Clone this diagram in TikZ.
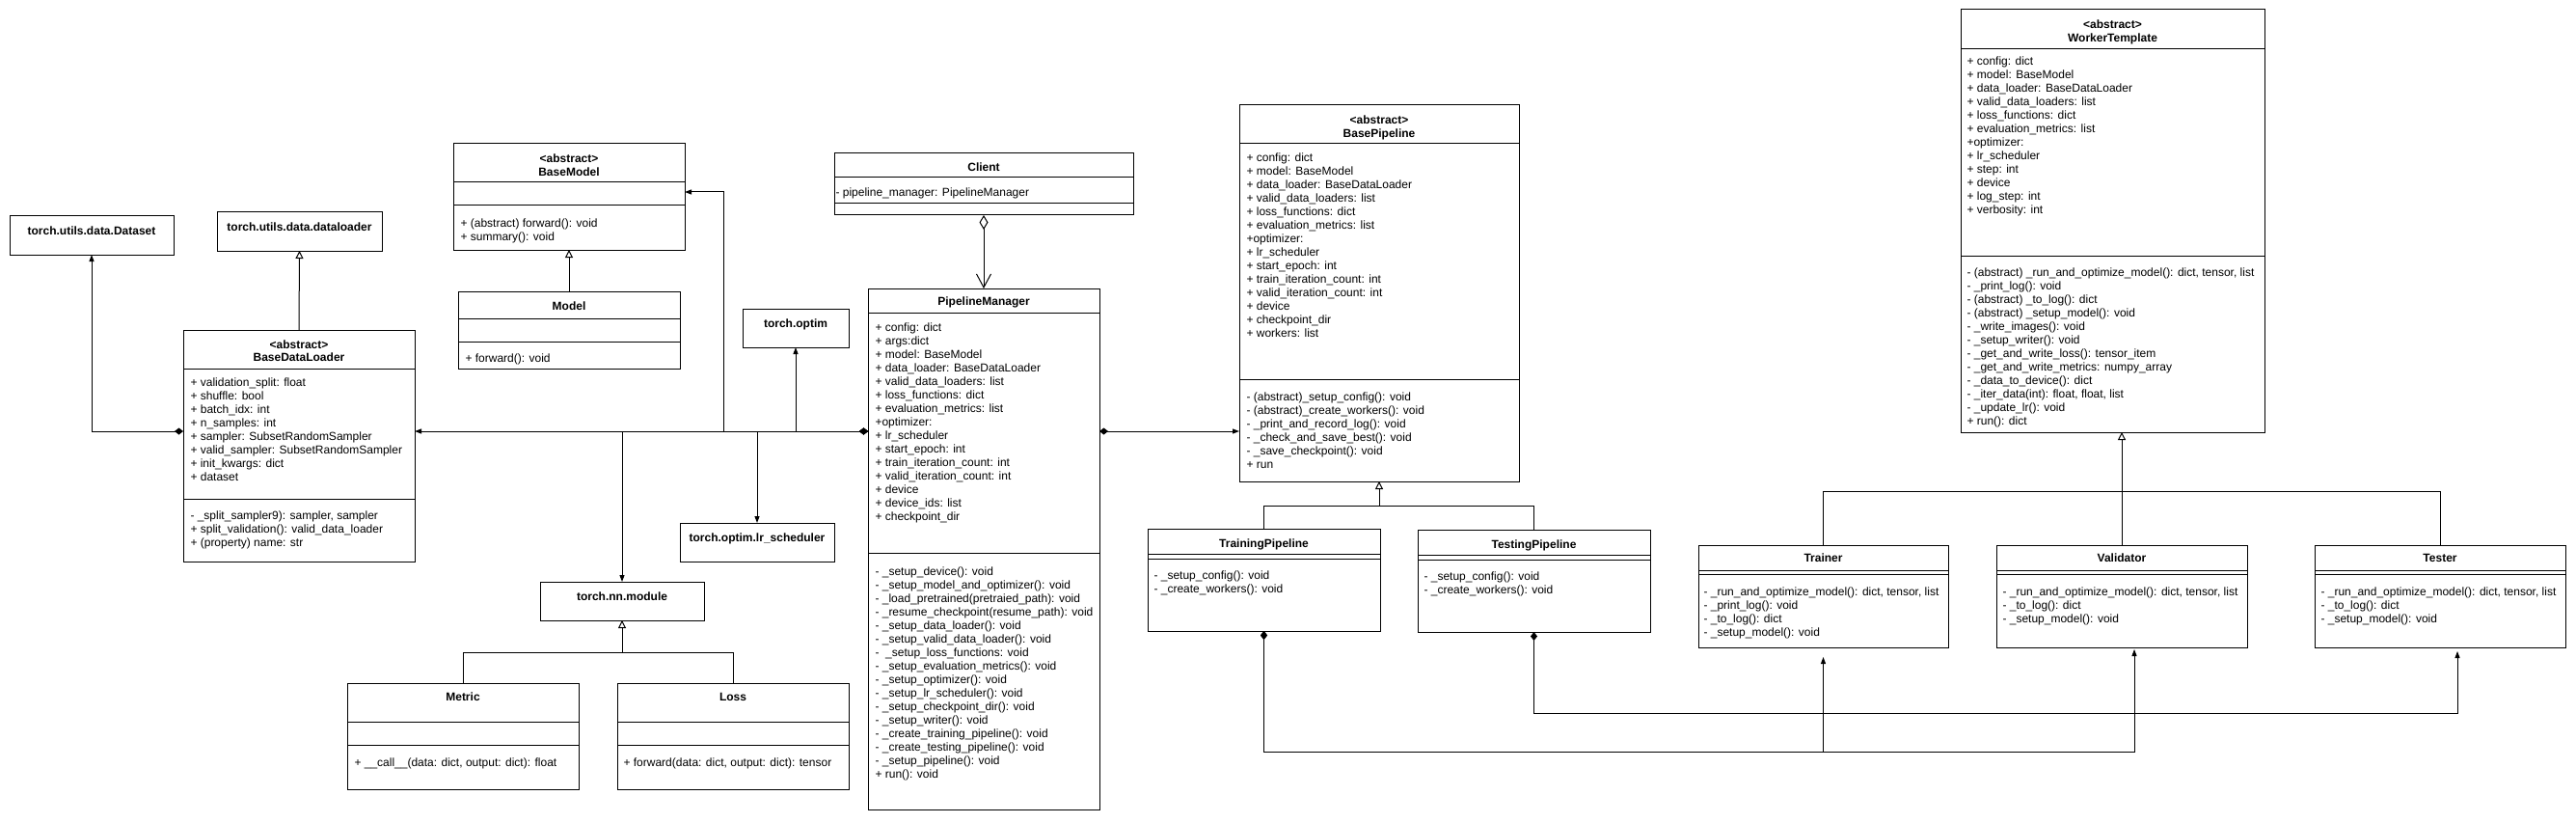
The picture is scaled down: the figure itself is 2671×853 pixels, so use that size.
\documentclass[tikz,border=0pt]{standalone}
\usepackage{fontspec}
\setmainfont{Liberation Sans}
\usetikzlibrary{arrows.meta}
\newcommand\umlbox[5]{\node[umlbox, minimum width=#4pt, minimum height=#5pt] (#1) at (#2,#3) {};}
\newcommand\hdiv[2]{\draw (#1.west |- 0,#2) -- (#1.east |- 0,#2);}
\newcommand\tl[4]{\node[ttl] (#1) at (#2,{#3+4.3}) {#4};}
\newcommand\tx[4]{\node[txt] (#1) at (#2,{#3-5.5}) {\strut #4};}
\begin{document}
\begin{tikzpicture}[x=1pt,y=-1pt,line width=1pt,
  umlbox/.style={draw, anchor=north west, inner sep=0pt, outer sep=0pt},
  txt/.style={anchor=north west, inner sep=0pt, align=left, font=\fontsize{12}{14}\selectfont},
  ttl/.style={anchor=base, inner sep=0pt, font=\fontsize{12}{14}\selectfont\bfseries},
  comp/.style={{Diamond[length=9pt,width=7pt]}-{Triangle[length=7pt,width=5pt]}},
  assoc/.style={-{Triangle[length=7pt,width=5pt]}},
  gen/.style={-{Triangle[open,length=8pt,width=8pt]}},
  agg/.style={{Diamond[open,length=15pt,width=9pt]}-{Straight Barb[length=14pt,width=15pt]}}]
\useasboundingbox[fill=white] (0,0) rectangle (2671,853);

% ---------- boxes ----------
\umlbox{ds}{10}{224}{170}{40}
\umlbox{dl}{225}{220}{171}{40}
\umlbox{bdl}{190}{342}{240}{240}
\umlbox{bm}{470}{149}{240}{110}
\umlbox{model}{475}{302}{230}{80}
\umlbox{optim}{770}{320}{110}{40}
\umlbox{client}{865}{159}{310}{64}
\umlbox{pm}{900}{299}{240}{540}
\umlbox{lr}{705}{542}{160}{40}
\umlbox{nn}{560}{603}{170}{40}
\umlbox{metric}{360}{708}{240}{110}
\umlbox{loss}{640}{708}{240}{110}
\umlbox{bp}{1285}{109}{290}{390}
\umlbox{tp}{1190}{548}{241}{106}
\umlbox{testp}{1470}{549}{241}{106}
\umlbox{wt}{2033}{10}{315}{438}
\umlbox{trainer}{1761}{565}{259}{106}
\umlbox{val}{2070}{565}{260}{106}
\umlbox{tester}{2400}{565}{260}{106}

% ---------- dividers ----------
\hdiv{bdl}{382}\hdiv{bdl}{517}
\hdiv{bm}{189}\hdiv{bm}{213}
\hdiv{model}{330}\hdiv{model}{354}
\hdiv{client}{184}\hdiv{client}{211}
\hdiv{pm}{324}\hdiv{pm}{573}
\hdiv{metric}{748}\hdiv{metric}{772}
\hdiv{loss}{748}\hdiv{loss}{772}
\hdiv{bp}{149}\hdiv{bp}{393}
\hdiv{tp}{574}\hdiv{tp}{579}
\hdiv{testp}{575}\hdiv{testp}{580}
\hdiv{wt}{51}\hdiv{wt}{265}
\hdiv{trainer}{591}\hdiv{trainer}{595}
\hdiv{val}{591}\hdiv{val}{595}
\hdiv{tester}{591}\hdiv{tester}{595}

% ---------- titles ----------
\tl{dsT}{95}{239}{torch.utils.data.Dataset}
\tl{dlT}{310.5}{235}{torch.utils.data.dataloader}
\tl{bdlS}{310}{357}{<abstract>}
\tl{bdlT}{310}{370}{BaseDataLoader}
\tl{bmS}{590}{164}{<abstract>}
\tl{bmT}{590}{178}{BaseModel}
\tl{modelT}{590}{317}{Model}
\tl{optimT}{825}{335}{torch.optim}
\tl{clientT}{1020}{173}{Client}
\tl{pmT}{1020}{312}{PipelineManager}
\tl{lrT}{785}{557}{torch.optim.lr\_scheduler}
\tl{nnT}{645}{618}{torch.nn.module}
\tl{metricT}{480}{722}{Metric}
\tl{lossT}{760}{722}{Loss}
\tl{bpS}{1430}{124}{<abstract>}
\tl{bpT}{1430}{138}{BasePipeline}
\tl{tpT}{1310.5}{563}{TrainingPipeline}
\tl{testpT}{1590.5}{564}{TestingPipeline}
\tl{wtS}{2190.5}{25}{<abstract>}
\tl{wtT}{2190.5}{39}{WorkerTemplate}
\tl{trainerT}{1890.5}{578}{Trainer}
\tl{valT}{2200}{578}{Validator}
\tl{testerT}{2530}{578}{Tester}

% ---------- members ----------
\tx{bdlA}{197}{396}{+ validation\_split: float\\+ shuffle: bool\\+ batch\_idx: int\\+ n\_samples: int\\+ sampler: SubsetRandomSampler\\+ valid\_sampler: SubsetRandomSampler\\+ init\_kwargs: dict\\+ dataset}
\tx{bdlM}{197}{534}{- \_split\_sampler9): sampler, sampler\\+ split\_validation(): valid\_data\_loader\\+ (property) name: str}
\tx{bmM}{477}{231}{+ (abstract) forward(): void\\+ summary(): void}
\tx{modelM}{482}{371}{+ forward(): void}
\tx{metricM}{367}{790}{+ \_\_call\_\_(data: dict, output: dict): float}
\tx{lossM}{646}{790}{+ forward(data: dict, output: dict): tensor}
\tx{clientA}{866}{199}{- pipeline\_manager: PipelineManager}
\tx{pmA}{907}{339}{+ config: dict\\+ args:dict\\+ model: BaseModel\\+ data\_loader: BaseDataLoader\\+ valid\_data\_loaders: list\\+ loss\_functions: dict\\+ evaluation\_metrics: list\\+optimizer:\\+ lr\_scheduler\\+ start\_epoch: int\\+ train\_iteration\_count: int\\+ valid\_iteration\_count: int\\+ device\\+ device\_ids: list\\+ checkpoint\_dir}
\tx{pmM}{907}{592}{- \_setup\_device(): void\\- \_setup\_model\_and\_optimizer(): void\\- \_load\_pretrained(pretraied\_path): void\\- \_resume\_checkpoint(resume\_path): void\\- \_setup\_data\_loader(): void\\- \_setup\_valid\_data\_loader(): void\\-\ \ \_setup\_loss\_functions: void\\- \_setup\_evaluation\_metrics(): void\\- \_setup\_optimizer(): void\\- \_setup\_lr\_scheduler(): void\\- \_setup\_checkpoint\_dir(): void\\- \_setup\_writer(): void\\- \_create\_training\_pipeline(): void\\- \_create\_testing\_pipeline(): void\\- \_setup\_pipeline(): void\\+ run(): void}
\tx{bpA}{1292}{163}{+ config: dict\\+ model: BaseModel\\+ data\_loader: BaseDataLoader\\+ valid\_data\_loaders: list\\+ loss\_functions: dict\\+ evaluation\_metrics: list\\+optimizer:\\+ lr\_scheduler\\+ start\_epoch: int\\+ train\_iteration\_count: int\\+ valid\_iteration\_count: int\\+ device\\+ checkpoint\_dir\\+ workers: list}
\tx{bpM}{1292}{411}{- (abstract)\_setup\_config(): void\\- (abstract)\_create\_workers(): void\\- \_print\_and\_record\_log(): void\\- \_check\_and\_save\_best(): void\\- \_save\_checkpoint(): void\\+ run}
\tx{tpM}{1196}{596}{- \_setup\_config(): void\\- \_create\_workers(): void}
\tx{testpM}{1476}{597}{- \_setup\_config(): void\\- \_create\_workers(): void}
\tx{wtA}{2039}{63}{+ config: dict\\+ model: BaseModel\\+ data\_loader: BaseDataLoader\\+ valid\_data\_loaders: list\\+ loss\_functions: dict\\+ evaluation\_metrics: list\\+optimizer:\\+ lr\_scheduler\\+ step: int\\+ device\\+ log\_step: int\\+ verbosity: int}
\tx{wtM}{2039}{282}{- (abstract) \_run\_and\_optimize\_model(): dict, tensor, list\\- \_print\_log(): void\\- (abstract) \_to\_log(): dict\\- (abstract) \_setup\_model(): void\\- \_write\_images(): void\\- \_setup\_writer(): void\\- \_get\_and\_write\_loss(): tensor\_item\\- \_get\_and\_write\_metrics: numpy\_array\\- \_data\_to\_device(): dict\\- \_iter\_data(int): float, float, list\\- \_update\_lr(): void\\+ run(): dict}
\tx{trainerM}{1766}{613}{- \_run\_and\_optimize\_model(): dict, tensor, list\\- \_print\_log(): void\\- \_to\_log(): dict\\- \_setup\_model(): void}
\tx{valM}{2076}{613}{- \_run\_and\_optimize\_model(): dict, tensor, list\\- \_to\_log(): dict\\- \_setup\_model(): void}
\tx{testerM}{2406}{613}{- \_run\_and\_optimize\_model(): dict, tensor, list\\- \_to\_log(): dict\\- \_setup\_model(): void}

% ---------- generalizations ----------
\draw[gen] (bdl.north) -- (dl.south);
\draw[gen] (model.north) -- (bm.south);
\draw[gen] (metric.north) |- (nn.south |- 0,676) -- (nn.south);
\draw (loss.north) |- (nn.south |- 0,676);
\draw[gen] (tp.north) |- (bp.south |- 0,524) -- (bp.south);
\draw (testp.north) |- (bp.south |- 0,524);
\draw[gen] (val.north) -- (val.north |- wt.south);
\draw (trainer.north) |- (val.north |- 0,509);
\draw (tester.north) |- (val.north |- 0,509);

% ---------- compositions / associations ----------
\draw[comp] (bdl.west |- 0,447) -| (ds.south);
\draw[comp] (pm.west |- 0,447) -- (bdl.east |- 0,447);
\draw[comp] (pm.west |- 0,447) -| (nn.north);
\draw[comp] (pm.west |- 0,447) -| (750,199) -- (bm.east |- 0,199);
\draw[comp] (pm.west |- 0,447) -| (optim.south);
\draw[comp] (pm.west |- 0,447) -| (lr.north);
\draw[comp] (pm.east |- 0,447) -- (bp.west |- 0,447);
\draw[agg] (client.south) -- (pm.north);
\draw[comp, shorten >=10pt] (tp.south) |- (trainer.south |- 0,779) -- (trainer.south);
\draw[comp, shorten >=2pt] (tp.south) |- ([xshift=13pt]val.south |- 0,779) -- ([xshift=13pt]val.south);
\draw[comp, shorten >=4pt] (testp.south) |- ([xshift=18pt]tester.south |- 0,739) -- ([xshift=18pt]tester.south);
\end{tikzpicture}
\end{document}
